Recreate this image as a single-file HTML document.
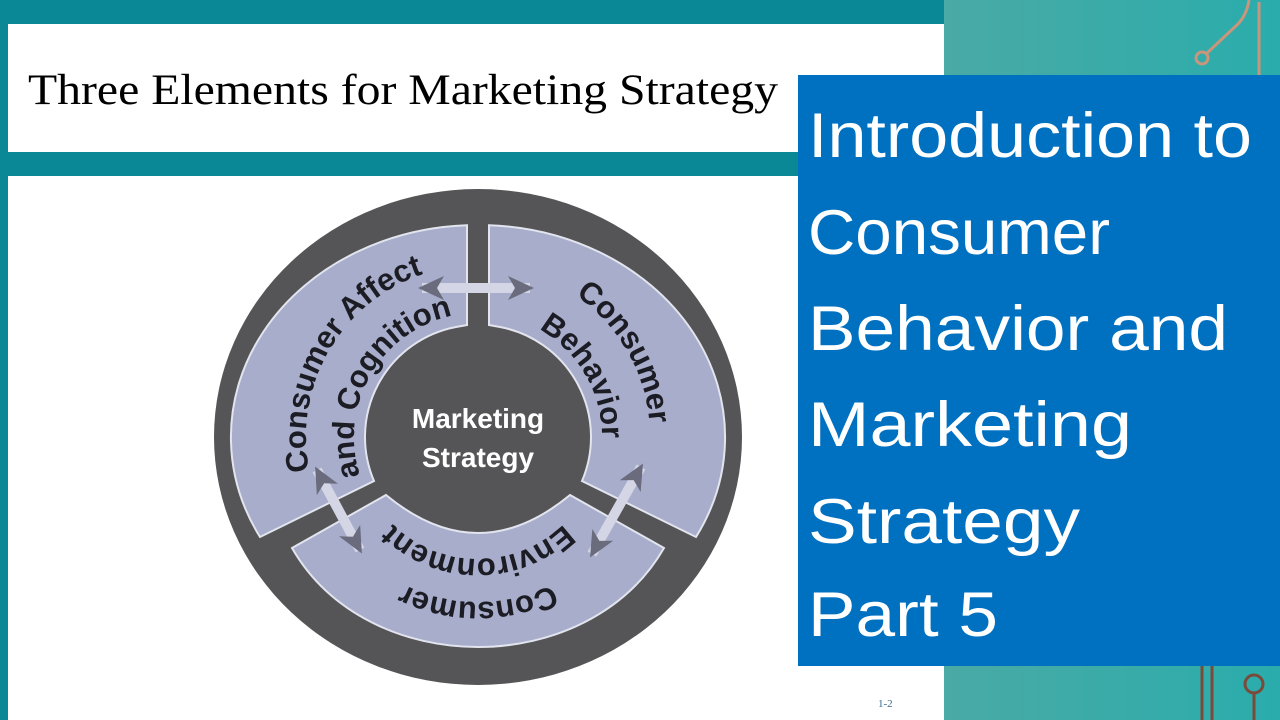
<!DOCTYPE html>
<html><head><meta charset="utf-8"><style>
html,body{margin:0;padding:0;width:1280px;height:720px;overflow:hidden;background:#0b8896;}
</style></head><body>
<svg width="1280" height="720" viewBox="0 0 1280 720" xmlns="http://www.w3.org/2000/svg" style="display:block">
<defs>
<linearGradient id="tg" x1="0" y1="0" x2="1" y2="0"><stop offset="0" stop-color="#4aaaa5"/><stop offset="1" stop-color="#2aacac"/></linearGradient>
<marker id="ah" markerWidth="26" markerHeight="24" refX="22" refY="12" orient="auto-start-reverse" markerUnits="userSpaceOnUse"><path d="M0,0 L26,12 L0,24 L7,12 z" fill="#6a6c7e"/></marker>
</defs>
<rect x="0" y="0" width="1280" height="720" fill="#0b8896"/>
<rect x="944" y="0" width="336" height="720" fill="url(#tg)"/>
<rect x="8" y="24" width="936" height="128" fill="#fff"/>
<rect x="8" y="176" width="936" height="544" fill="#fff"/>
<text x="28" y="104" font-family="Liberation Serif, serif" font-size="43" fill="#000" textLength="750" lengthAdjust="spacingAndGlyphs">Three Elements for Marketing Strategy</text>
<text x="878" y="707" font-family="Liberation Serif, serif" font-size="11" fill="#3a6a8a">1-2</text>

<path d="M1249,0 Q1247,14 1238,24 L1206,54" stroke="#c8967a" stroke-width="3" fill="none"/>
<circle cx="1202" cy="58" r="6" stroke="#c8967a" stroke-width="3" fill="none"/>
<line x1="1259" y1="2" x2="1259" y2="75" stroke="#c8967a" stroke-width="3"/>
<line x1="1202" y1="666" x2="1202" y2="720" stroke="#7a4a3a" stroke-width="3"/>
<line x1="1212" y1="666" x2="1212" y2="720" stroke="#7a4a3a" stroke-width="3"/>
<circle cx="1254" cy="684" r="9" stroke="#7a4a3a" stroke-width="3" fill="none"/>
<line x1="1254" y1="693" x2="1254" y2="720" stroke="#7a4a3a" stroke-width="3"/>

<rect x="798" y="75" width="482" height="591" fill="#0070c0"/>
<g font-family="Liberation Sans, sans-serif" font-size="63" fill="#fff">
<text x="808" y="157" textLength="444" lengthAdjust="spacingAndGlyphs">Introduction to</text>
<text x="808" y="254" textLength="302" lengthAdjust="spacingAndGlyphs">Consumer</text>
<text x="808" y="350" textLength="420" lengthAdjust="spacingAndGlyphs">Behavior and</text>
<text x="808" y="446" textLength="324" lengthAdjust="spacingAndGlyphs">Marketing</text>
<text x="808" y="543" textLength="272" lengthAdjust="spacingAndGlyphs">Strategy</text>
<text x="808" y="636" textLength="190" lengthAdjust="spacingAndGlyphs">Part 5</text>
</g>

<g transform="translate(478,437)">
<ellipse rx="264" ry="248" fill="#555557"/>
<g fill="#a7adcb" stroke="#e2e4ee" stroke-width="2">
<path d="M11,-211.8 A246,212 0 0 1 218,100 L104,44 A112,112 0 0 0 22,-110 L11,-112 Z"/>
<path d="M-11,-211.8 A246,212 0 0 0 -218,100 L-104,44 A112,112 0 0 1 -22,-110 L-11,-112 Z"/>
<path d="M-186,111 C-110,243 110,243 186,111 L92,58 Q0,134 -92,58 Z"/>
</g>
<path id="r1" d="M0,-172 A172,172 0 0 1 149,86" fill="none"/>
<path id="r2" d="M0,-124 A124,124 0 0 1 107.4,62" fill="none"/>
<path id="l1" d="M-149,86 A172,172 0 0 1 0,-172" fill="none"/>
<path id="l2" d="M-107.4,62 A124,124 0 0 1 0,-124" fill="none"/>
<path id="b1" d="M142.9,82.5 A165,165 0 0 1 -142.9,82.5" fill="none"/>
<path id="b2" d="M105.6,61 A122,122 0 0 1 -105.6,61" fill="none"/>
<g font-family="Liberation Sans, sans-serif" font-weight="bold" font-size="31" fill="#1c1c24" text-anchor="middle">
<text><textPath href="#r1" startOffset="50%">Consumer</textPath></text>
<text><textPath href="#r2" startOffset="50%">Behavior</textPath></text>
<text><textPath href="#l1" startOffset="50%">Consumer Affect</textPath></text>
<text><textPath href="#l2" startOffset="50%">and Cognition</textPath></text>
<text><textPath href="#b1" startOffset="50%">Consumer</textPath></text>
<text><textPath href="#b2" startOffset="50%">Environment</textPath></text>
</g>
<g font-family="Liberation Sans, sans-serif" font-weight="bold" font-size="28" fill="#fff" text-anchor="middle">
<text x="0" y="-9">Marketing</text>
<text x="0" y="30">Strategy</text>
</g>
<g stroke="#d4d6e6" stroke-width="10" fill="none" marker-start="url(#ah)" marker-end="url(#ah)">
<line x1="-56" y1="-149" x2="52" y2="-149"/>
<line x1="-161" y1="33" x2="-118" y2="113"/>
<line x1="163" y1="30" x2="114" y2="117"/>
</g>
</g>
</svg>
</body></html>
